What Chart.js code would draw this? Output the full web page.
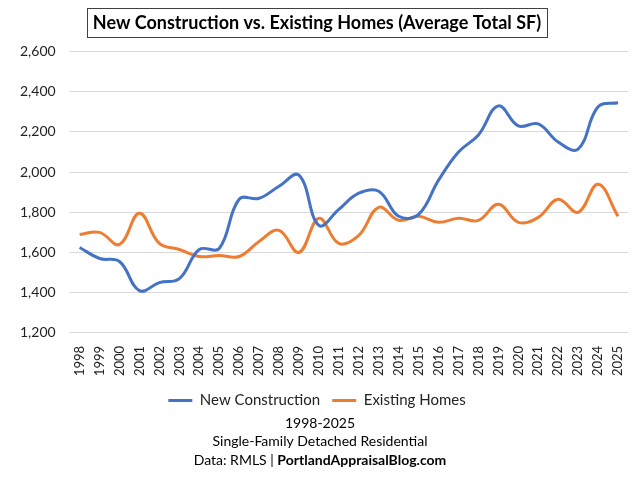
<!DOCTYPE html>
<html>
<head>
<meta charset="utf-8">
<script src="https://cdn.jsdelivr.net/npm/chart.js@4/dist/chart.umd.min.js"></script>
<style>
html,body{margin:0;padding:0;background:#fff;}
#wrap{width:640px;height:480px;}
</style>
</head>
<body>
<div id="wrap"><canvas id="c" width="640" height="480"></canvas></div>
<script>
const years = ["1998","1999","2000","2001","2002","2003","2004","2005","2006","2007","2008","2009","2010","2011","2012","2013","2014","2015","2016","2017","2018","2019","2020","2021","2022","2023","2024","2025"];
const newConstruction = [1625,1570,1555,1410,1450,1470,1615,1620,1865,1870,1930,1985,1735,1815,1895,1905,1780,1790,1960,2100,2185,2330,2230,2240,2150,2115,2325,2345];
const existingHomes = [1690,1700,1640,1795,1645,1615,1580,1585,1580,1655,1710,1600,1770,1645,1685,1825,1760,1780,1750,1770,1760,1840,1750,1775,1865,1800,1940,1780];
const yTicks = [1200,1400,1600,1800,2000,2200,2400,2600];
const titleText = "New Construction vs. Existing Homes (Average Total SF)";
const footerLines = ["1998-2025","Single-Family Detached Residential"];
const footerLast = ["Data: RMLS | ","PortlandAppraisalBlog.com"];

const FONT = "Lato, 'Open Sans', sans-serif";

const titleBox = {
  id: 'titleBox',
  afterDraw(chart) {
    const ctx = chart.ctx;
    const tb = chart.titleBlock;
    ctx.save();
    ctx.font = "bold 18px " + FONT;
    const w = ctx.measureText(titleText).width;
    const cx = (tb.left + tb.right) / 2;
    const cy = 22.5;
    ctx.strokeStyle = "#404040";
    ctx.lineWidth = 1;
    ctx.strokeRect(Math.round(cx - w/2 - 6) + 0.5, Math.round(cy - 14.5) + 0.5, Math.round(w + 12), 29);
    ctx.restore();
  }
};

const footer = {
  id: 'footer',
  afterDraw(chart) {
    const ctx = chart.ctx;
    ctx.save();
    ctx.fillStyle = "#000";
    ctx.textBaseline = "middle";
    ctx.textAlign = "center";
    ctx.font = "14px " + FONT;
    ctx.fillText(footerLines[0], 320, 423);
    ctx.fillText(footerLines[1], 320, 441);
    ctx.textAlign = "left";
    const w1 = ctx.measureText(footerLast[0]).width;
    ctx.font = "bold 14px " + FONT;
    const w2 = ctx.measureText(footerLast[1]).width;
    const x0 = 320 - (w1 + w2) / 2;
    ctx.font = "14px " + FONT;
    ctx.fillText(footerLast[0], x0, 460);
    ctx.font = "bold 14px " + FONT;
    ctx.fillText(footerLast[1], x0 + w1, 460);
    ctx.restore();
  }
};

new Chart(document.getElementById('c'), {
  type: 'line',
  data: {
    labels: years,
    datasets: [
      { label: "New Construction", data: newConstruction, borderColor: "#4472C4", backgroundColor: "#4472C4", borderWidth: 3, pointRadius: 0, tension: 0.4, fill: false },
      { label: "Existing Homes", data: existingHomes, borderColor: "#ED7D31", backgroundColor: "#ED7D31", borderWidth: 3, pointRadius: 0, tension: 0.4, fill: false }
    ]
  },
  options: {
    responsive: false,
    animation: false,
    devicePixelRatio: 1,
    layout: { padding: { left: 6, right: 12, top: 12, bottom: 62 } },
    plugins: {
      title: { display: true, text: titleText, color: "#000", font: { family: FONT, size: 18, weight: 'bold' }, padding: { top: 0, bottom: 18 } },
      legend: {
        position: 'bottom',
        labels: { color: "#222", font: { family: FONT, size: 15 }, usePointStyle: true, pointStyle: 'line', pointStyleWidth: 24, boxHeight: 2, padding: 12 }
      },
      tooltip: { enabled: false }
    },
    scales: {
      x: {
        offset: true,
        grid: { display: false },
        border: { display: false },
        ticks: { color: "#222", font: { family: FONT, size: 13 }, maxRotation: 90, minRotation: 90, autoSkip: false, padding: 5 }
      },
      y: {
        min: 1200, max: 2600,
        afterBuildTicks(axis) { axis.ticks = yTicks.map(v => ({ value: v })); },
        grid: { color: "#d9d9d9", lineWidth: 1, drawTicks: false },
        border: { display: false },
        ticks: { color: "#222", font: { family: FONT, size: 14 }, padding: 14, callback: v => v.toLocaleString('en-US') }
      }
    }
  },
  plugins: [titleBox, footer]
});
</script>
</body>
</html>
